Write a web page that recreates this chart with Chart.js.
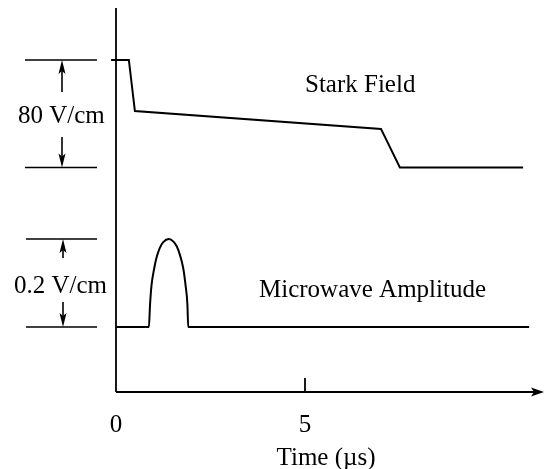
<!DOCTYPE html>
<html>
<head>
<meta charset="utf-8">
<script src="https://cdn.jsdelivr.net/npm/chart.js@4"></script>
<style>
  body { margin: 0; background: #fff; }
  canvas { display: block; }
</style>
</head>
<body>
<canvas id="pulseChart" width="546" height="469"></canvas>
<script>
// Stark field ramp (V/cm above final level) vs time (us)
const starkTime = [-0.13, 0.34, 0.50, 7.01, 7.51, 10.77];
const starkField = [80, 80, 42.0, 28.7, 0, 0];

// microwave pulse amplitude (V/cm) vs time (us)
const mwTime = [0, 0.87, 0.90, 0.94, 1.01, 1.08, 1.16, 1.25, 1.40, 1.52, 1.61, 1.69, 1.78, 1.84, 1.89, 1.91, 10.93];
const mwAmplitude = [0, 0, 0.050, 0.095, 0.133, 0.160, 0.180, 0.193, 0.200, 0.194, 0.183, 0.164, 0.133, 0.095, 0.050, 0, 0];

// time axis
const xTickValues = [0, 5];
const xTickLabels = ['0', '5'];
const xTitle = 'Time (\u00b5s)';

// scale bars on the left
const starkSpan = 80;
const mwSpan = 0.2;
const starkBarLabel = '80 V/cm';
const mwBarLabel = '0.2 V/cm';
const starkName = 'Stark Field';
const mwName = 'Microwave Amplitude';

const serif = '25px "Liberation Serif", "Times New Roman", serif';

function toPoints(xs, ys) {
    return xs.map((x, i) => ({ x: x, y: ys[i] }));
}

// small filled arrow head, dir = -1 points up, 1 points down, 0 points right
function arrowHead(ctx, x, y, dir) {
    ctx.beginPath();
    if (dir === 0) {
        ctx.moveTo(x, y);
        ctx.lineTo(x - 13, y - 4.5);
        ctx.lineTo(x - 10, y);
        ctx.lineTo(x - 13, y + 4.5);
    } else {
        ctx.moveTo(x, y);
        ctx.lineTo(x - 3.5, y - dir * 14);
        ctx.lineTo(x, y - dir * 11);
        ctx.lineTo(x + 3.5, y - dir * 14);
    }
    ctx.closePath();
    ctx.fill();
}

function line(ctx, x1, y1, x2, y2) {
    ctx.beginPath();
    ctx.moveTo(x1, y1);
    ctx.lineTo(x2, y2);
    ctx.stroke();
}

// axes, scale bars and text
const annotate = {
    id: 'annotate',
    afterDatasetsDraw(chart) {
        const ctx = chart.ctx;
        const area = chart.chartArea;
        const xs = chart.scales.x;
        const ys = chart.scales.yStark;
        const ym = chart.scales.yMw;
        const x0 = xs.getPixelForValue(0);

        ctx.save();
        ctx.strokeStyle = '#000';
        ctx.fillStyle = '#000';
        ctx.lineWidth = 1.8;

        // vertical axis
        line(ctx, x0, area.top, x0, area.bottom);
        // time axis with arrow
        line(ctx, x0, area.bottom, 534, area.bottom);
        arrowHead(ctx, 544, area.bottom, 0);
        xTickValues.forEach(v => {
            if (v === 0) return;
            const px = xs.getPixelForValue(v);
            line(ctx, px, area.bottom - 14, px, area.bottom);
        });

        ctx.font = serif;
        ctx.textAlign = 'center';
        ctx.textBaseline = 'alphabetic';
        xTickValues.forEach((v, i) => {
            ctx.fillText(xTickLabels[i], xs.getPixelForValue(v), 432);
        });
        ctx.fillText(xTitle, 326, 465);

        // scale bar for the Stark field
        const sTop = ys.getPixelForValue(starkSpan);
        const sBot = ys.getPixelForValue(0);
        ctx.lineWidth = 1.6;
        line(ctx, 25, sTop, 97, sTop);
        line(ctx, 25, sBot, 97, sBot);
        line(ctx, 62, sTop + 10, 62, 92);
        line(ctx, 62, 137, 62, sBot - 10);
        arrowHead(ctx, 62, sTop, -1);
        arrowHead(ctx, 62, sBot, 1);

        // scale bar for the microwave amplitude
        const mTop = ym.getPixelForValue(mwSpan);
        const mBot = ym.getPixelForValue(0);
        line(ctx, 26, mTop, 97, mTop);
        line(ctx, 26, mBot, 97, mBot);
        line(ctx, 63, mTop + 10, 63, 258);
        line(ctx, 63, 302, 63, mBot - 10);
        arrowHead(ctx, 63, mTop, -1);
        arrowHead(ctx, 63, mBot, 1);

        ctx.textAlign = 'left';
        ctx.fillText(starkBarLabel, 18, 123);
        ctx.fillText(mwBarLabel, 14, 293);
        ctx.fillText(starkName, 305, 92);
        ctx.fillText(mwName, 259, 297);
        ctx.restore();
    }
};

const ctx = document.getElementById('pulseChart').getContext('2d');
const myChart = new Chart(ctx, {
    type: 'line',
    data: {
        datasets: [{
            label: starkName,
            data: toPoints(starkTime, starkField),
            yAxisID: 'yStark',
            borderColor: '#000',
            borderWidth: 2,
            pointRadius: 0,
            tension: 0
        }, {
            label: mwName,
            data: toPoints(mwTime, mwAmplitude),
            yAxisID: 'yMw',
            borderColor: '#000',
            borderWidth: 2,
            pointRadius: 0,
            cubicInterpolationMode: 'monotone'
        }]
    },
    options: {
        responsive: false,
        animation: false,
        layout: {
            padding: { left: 108.44, right: 14.2, top: 8, bottom: 77 }
        },
        plugins: {
            legend: { display: false },
            tooltip: { enabled: false }
        },
        scales: {
            x: { type: 'linear', min: -0.2, max: 11.0, display: false },
            yStark: { type: 'linear', min: -167.1, max: 118.7, display: false },
            yMw: { type: 'linear', min: -0.1477, max: 0.725, display: false }
        }
    },
    plugins: [annotate]
});
</script>
</body>
</html>
